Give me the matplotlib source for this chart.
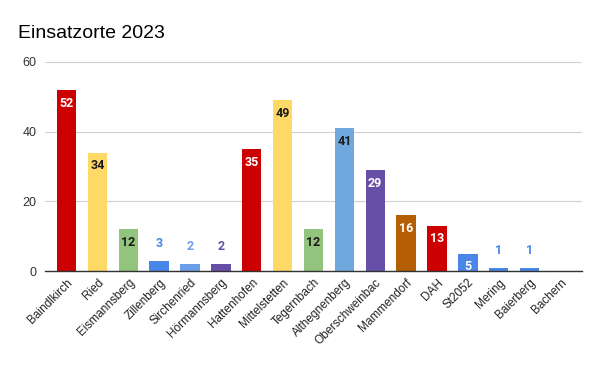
import matplotlib
matplotlib.use("Agg")
import matplotlib.pyplot as plt

categories = ["Baindlkirch", "Ried", "Eismannsberg", "Zillenberg", "Sirchenried",
              "Hörmannsberg", "Hattenhofen", "Mittelstetten", "Tegernbach",
              "Althegnenberg", "Oberschweinbac", "Mammendorf", "DAH", "St2052",
              "Mering", "Baierberg", "Bachern"]
values = [52, 34, 12, 3, 2, 2, 35, 49, 12, 41, 29, 16, 13, 5, 1, 1, 0]
colors = ["#CC0000", "#FFD966", "#93C47D", "#4A86E8", "#6D9EEB", "#674EA7",
          "#CC0000", "#FFD966", "#93C47D", "#6FA8DC", "#674EA7", "#B45F06",
          "#CC0000", "#4A86E8", "#4A86E8", "#4A86E8", "#4A86E8"]
label_colors = ["white", "#1a1a1a", "#1a1a1a", None, None, None,
                "white", "#1a1a1a", "#1a1a1a", "#1a1a1a", "white", "white",
                "white", "white", None, None, None]
yticks = [0, 20, 40, 60]

fig = plt.figure(figsize=(6, 3.71), dpi=100)
ax = fig.add_axes([0.075, 0.2695, 0.895, 0.5635])

x = list(range(len(categories)))
ax.bar(x, values, width=0.63, color=colors, zorder=3)

for xi, v, c, lc in zip(x, values, colors, label_colors):
    if v == 0:
        continue
    if lc is None:
        ax.annotate(str(v), (xi, v), xytext=(0, 12.5), textcoords="offset points",
                    ha="center", va="center", color=c, fontsize=9,
                    fontweight="bold", family="Roboto", zorder=4)
    else:
        ax.annotate(str(v), (xi, v), xytext=(0, -9.5), textcoords="offset points",
                    ha="center", va="center", color=lc, fontsize=9,
                    fontweight="bold", family="Roboto", zorder=4)

ax.set_ylim(0, 60)
ax.set_xlim(-0.7, len(categories) - 0.3)
ax.set_yticks(yticks)
ax.set_yticklabels([str(t) for t in yticks], family="Liberation Sans", fontsize=9, color="#333333")
ax.set_xticks(x)
ax.set_xticklabels(categories, rotation=45, ha="right", rotation_mode="anchor",
                   family="Liberation Sans", fontsize=8.5, color="#222222")
ax.tick_params(axis="both", length=0, pad=6)
ax.tick_params(axis="x", pad=4)
ax.grid(axis="y", color="#d0d0d0", linewidth=0.8, zorder=0)
for s in ["top", "right", "left"]:
    ax.spines[s].set_visible(False)
ax.spines["bottom"].set_color("#333333")
ax.spines["bottom"].set_linewidth(1.0)
ax.spines["bottom"].set_zorder(5)

fig.text(0.03, 0.91, "Einsatzorte 2023", family="Liberation Sans", fontsize=14,
         ha="left", va="center", color="#000000")

fig.savefig("out.png", dpi=100)
